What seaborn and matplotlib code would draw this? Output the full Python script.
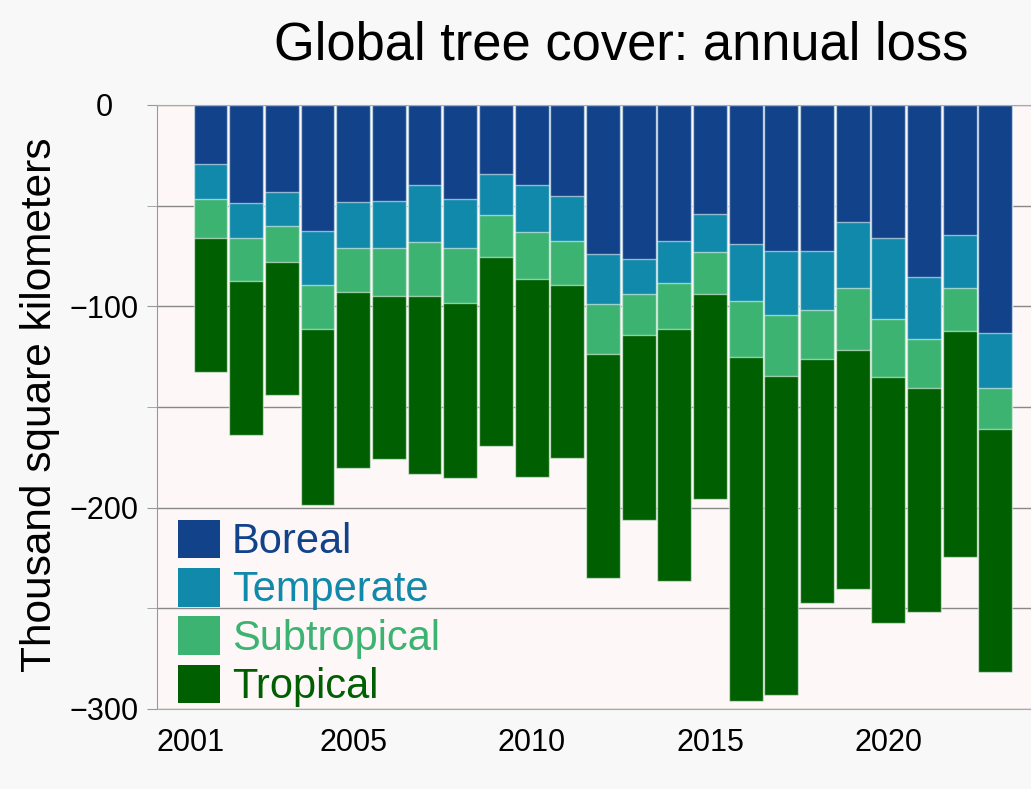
import numpy as np
import pandas as pd
import matplotlib
matplotlib.use('Agg')
import matplotlib.pyplot as plt
import matplotlib.transforms as mtransforms
from matplotlib.patches import Patch
import seaborn as sns

# annual tree cover loss, thousand km2
years = list(range(2001, 2024))
boreal = [29.5, 48.8, 43.4, 62.8, 48.0, 47.9, 39.9, 46.9, 34.4, 39.7, 45.0, 74.2,
          76.5, 67.7, 54.3, 69.2, 72.7, 72.4, 58.3, 66.2, 85.6, 64.7, 113.4]
temperate = [17.3, 17.4, 16.7, 26.5, 23.2, 23.3, 28.0, 24.0, 20.4, 23.5, 22.6, 24.5,
             17.5, 20.9, 18.9, 28.3, 31.8, 29.3, 32.8, 40.3, 30.6, 26.0, 27.3]
subtropical = [19.4, 21.1, 18.1, 22.0, 21.8, 23.5, 26.8, 27.3, 20.9, 23.2, 22.0, 25.1,
               20.4, 22.8, 20.8, 27.8, 30.1, 24.6, 30.6, 28.6, 24.5, 21.7, 20.1]
tropical = [66.6, 76.8, 66.0, 87.4, 87.5, 81.3, 88.8, 87.3, 93.7, 98.6, 85.9, 111.1,
            91.7, 125.0, 101.7, 170.6, 158.4, 120.9, 118.8, 122.2, 111.3, 112.3, 120.8]

zones = ['Boreal', 'Temperate', 'Subtropical', 'Tropical']
colors = ['#12438a', '#1189ab', '#3cb371', '#005f00']
xtick_years = [2001, 2005, 2010, 2015, 2020]
ytick_major = [0, -100, -200, -300]
ytick_minor = [-50, -150, -250]

df = pd.DataFrame({'year': years, 'Boreal': boreal, 'Temperate': temperate,
                   'Subtropical': subtropical, 'Tropical': tropical})
# stacked downward: cumulative negative depth of each layer
cum = -df[zones].cumsum(axis=1)

sns.set_style('white')
plt.rcParams['font.family'] = ['Liberation Sans', 'DejaVu Sans']
plt.rcParams['text.color'] = 'black'
plt.rcParams['xtick.labelcolor'] = 'black'
plt.rcParams['ytick.labelcolor'] = 'black'

fig = plt.figure(figsize=(10.31, 7.89), dpi=100, facecolor='#f8f8f8')
ax = fig.add_axes([157/1031, 80/789, 874/1031, 604/789])
ax.set_facecolor('#fdf7f7')

# draw deepest layer first, shallower ones on top
for zone, col in reversed(list(zip(zones, colors))):
    sns.barplot(x=df['year'], y=cum[zone], native_scale=True, color=col, saturation=1,
                width=0.95, edgecolor=(1, 1, 1, 0.55), linewidth=1, errorbar=None, ax=ax)

ax.set_xlim(1999.5, 2024.0)
ax.set_ylim(-300, 0)
ax.set_axisbelow(True)

ax.set_yticks(ytick_major)
ax.set_yticks(ytick_minor, minor=True)
ax.set_yticklabels([f'\u2212{abs(v)}' if v else '0' for v in ytick_major], fontsize=22, ha='center')
ax.tick_params(axis='y', which='both', length=7.2, color='#999999', pad=31, left=True,
               labelcolor='black')
ax.grid(axis='y', which='both', color='#888888', linewidth=1)

ax.set_xticks(xtick_years)
ax.set_xticklabels([str(y) for y in xtick_years], fontsize=22)
ax.tick_params(axis='x', length=0, pad=14, labelcolor='black')
first = ax.get_xticklabels()[0]
first.set_transform(first.get_transform() + mtransforms.ScaledTranslation(-0.2, 0, fig.dpi_scale_trans))

ax.set_xlabel('')
ax.set_ylabel('')
for side in ['top', 'bottom']:
    ax.spines[side].set_color('#aaaaaa')
ax.spines['left'].set_color('#999999')
ax.spines['right'].set_visible(False)

handles = [Patch(facecolor=c, edgecolor='none') for c in colors]
ax.legend(handles, zones, loc='lower left', bbox_to_anchor=(0.024, 0.003), frameon=False,
          fontsize=30, labelcolor=colors, handlelength=1.02, handleheight=1.05,
          labelspacing=0.14, handletextpad=0.27, borderpad=0, borderaxespad=0)

fig.text(621/1031, 1 - 45/789, 'Global tree cover: annual loss', fontsize=37.8,
         ha='center', va='center', color='black')
fig.text(40/1031, 1 - 405/789, 'Thousand square kilometers', fontsize=30.5,
         rotation=90, ha='center', va='center', color='black')

fig.savefig('out.png', dpi=100, facecolor=fig.get_facecolor())
